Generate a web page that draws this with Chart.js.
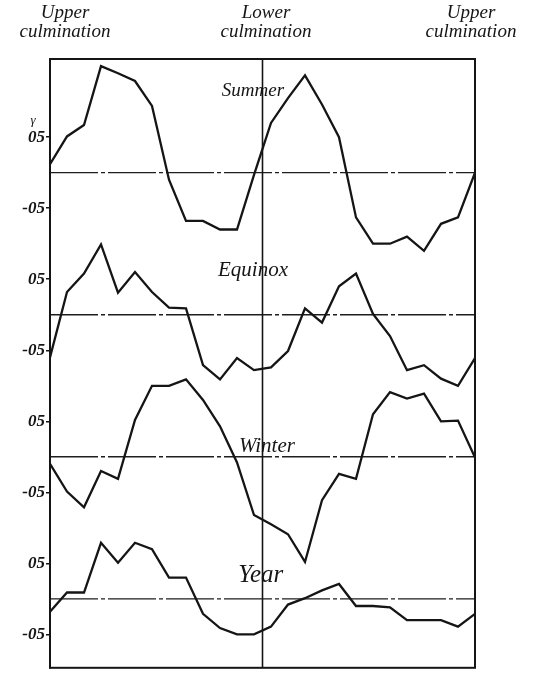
<!DOCTYPE html>
<html>
<head>
<meta charset="utf-8">
<script src="https://cdn.jsdelivr.net/npm/chart.js@4.4.0/dist/chart.umd.min.js"></script>
<style>
  html, body { margin: 0; padding: 0; background: #fff; }
  #wrap { width: 550px; height: 679px; position: relative; }
</style>
</head>
<body>
<div id="wrap"><canvas id="chart"></canvas></div>
<script>
// hour steps from upper culmination, through lower culmination, back to upper culmination
const steps = [0, 1, 2, 3, 4, 5, 6, 7, 8, 9, 10, 11, 12, 13, 14, 15, 16, 17, 18, 19, 20, 21, 22, 23, 24, 25];

const summer  = [0.12, 0.51, 0.67, 1.50, 1.40, 1.29, 0.94, -0.10, -0.68, -0.68, -0.80, -0.80, -0.03,
                 0.70, 1.05, 1.37, 0.96, 0.50, -0.63, -1.00, -1.00, -0.90, -1.10, -0.72, -0.63, 0.00];
const equinox = [-0.60, 0.32, 0.58, 0.99, 0.31, 0.60, 0.32, 0.10, 0.09, -0.71, -0.91, -0.61, -0.78,
                 -0.74, -0.51, 0.09, -0.11, 0.40, 0.58, 0.01, -0.30, -0.78, -0.71, -0.90, -1.00, -0.61];
const winter  = [-0.10, -0.49, -0.71, -0.20, -0.31, 0.52, 1.00, 1.00, 1.09, 0.80, 0.43, -0.08, -0.82,
                 -0.95, -1.09, -1.48, -0.61, -0.24, -0.31, 0.60, 0.91, 0.82, 0.89, 0.50, 0.51, -0.01];
const year    = [-0.18, 0.09, 0.09, 0.79, 0.51, 0.79, 0.70, 0.30, 0.30, -0.21, -0.41, -0.50, -0.50,
                 -0.39, -0.08, 0.01, 0.12, 0.21, -0.10, -0.10, -0.12, -0.30, -0.30, -0.30, -0.39, -0.21];

const panelNames = ['Summer', 'Equinox', 'Winter', 'Year'];
const tickValues = [-0.5, 0.5];
const tickLabels = ['-05', '05'];
const headerTop = ['Upper', 'Lower', 'Upper'];
const headerBottom = ['culmination', 'culmination', 'culmination'];

// each panel sits 2 units above the next one
const panels = [summer, equinox, winter, year];
const shift = [6, 4, 2, 0];
const ink = '#151515';

const datasets = [];
panels.forEach((vals, p) => {
    datasets.push({
        label: panelNames[p],
        data: vals.map((v, i) => ({ x: steps[i], y: v + shift[p] })),
        borderColor: ink,
        borderWidth: 2.3,
        pointRadius: 0,
        tension: 0,
        fill: false
    });
    // zero line of the panel
    datasets.push({
        label: panelNames[p] + ' zero',
        data: [{ x: steps[0], y: shift[p] }, { x: steps[steps.length - 1], y: shift[p] }],
        borderColor: '#1e1e1e',
        borderWidth: 1.4,
        borderDash: [48, 3, 4, 3],
        pointRadius: 0,
        fill: false
    });
});

const allTicks = [];
shift.forEach(s => tickValues.forEach(t => allTicks.push(s + t)));

const framePlugin = {
    id: 'frame',
    afterDatasetsDraw(chart) {
        const { ctx, chartArea: a, scales } = chart;
        ctx.save();
        ctx.strokeStyle = ink;
        ctx.lineWidth = 2;
        ctx.strokeRect(a.left, a.top, a.right - a.left, a.bottom - a.top);
        // lower culmination line
        const mx = scales.x.getPixelForValue(12.5);
        ctx.lineWidth = 1.6;
        ctx.beginPath();
        ctx.moveTo(mx, a.top);
        ctx.lineTo(mx, a.bottom);
        ctx.stroke();

        // panel names
        ctx.fillStyle = ink;
        ctx.textAlign = 'center';
        ctx.textBaseline = 'middle';
        const namePos = [[11.94, 1.15], [11.94, 0.63], [12.76, 0.14], [12.4, 0.33]];
        const nameSize = [19, 21, 21, 25];
        panelNames.forEach((n, p) => {
            ctx.font = 'italic ' + nameSize[p] + 'px "Liberation Serif"';
            ctx.fillText(n, scales.x.getPixelForValue(namePos[p][0]),
                         scales.y.getPixelForValue(shift[p] + namePos[p][1]));
        });

        // header
        ctx.font = 'italic 19px "Liberation Serif"';
        const hx = [65, 266, 471];
        headerTop.forEach((t, i) => {
            ctx.fillText(t, hx[i], 13);
            ctx.fillText(headerBottom[i], hx[i], 32);
        });

        // unit
        ctx.font = 'italic 13px "Liberation Serif"';
        ctx.fillText('\u03b3', 33, 121);
        ctx.restore();
    }
};

new Chart(document.getElementById('chart'), {
    type: 'line',
    data: { datasets: datasets },
    options: {
        responsive: true,
        maintainAspectRatio: false,
        animation: false,
        layout: { padding: { left: 0, right: 75, top: 59, bottom: 2 } },
        plugins: { legend: { display: false }, tooltip: { enabled: false } },
        scales: {
            x: {
                type: 'linear',
                min: 0,
                max: 25,
                display: false
            },
            y: {
                min: -0.97,
                max: 7.6,
                afterFit(scale) { scale.width = 50; },
                afterBuildTicks(scale) { scale.ticks = allTicks.map(v => ({ value: v })); },
                grid: { drawOnChartArea: false, drawTicks: true, tickLength: 4, color: ink, lineWidth: 1.5 },
                border: { display: true, color: ink, width: 2 },
                ticks: {
                    padding: 1,
                    color: ink,
                    font: { family: 'Liberation Serif', style: 'italic', weight: 'bold', size: 17 },
                    callback(value) {
                        const r = Math.round((value - Math.round(value / 2) * 2) * 10) / 10;
                        return r < 0 ? tickLabels[0] : tickLabels[1];
                    }
                }
            }
        }
    },
    plugins: [framePlugin]
});
</script>
</body>
</html>
